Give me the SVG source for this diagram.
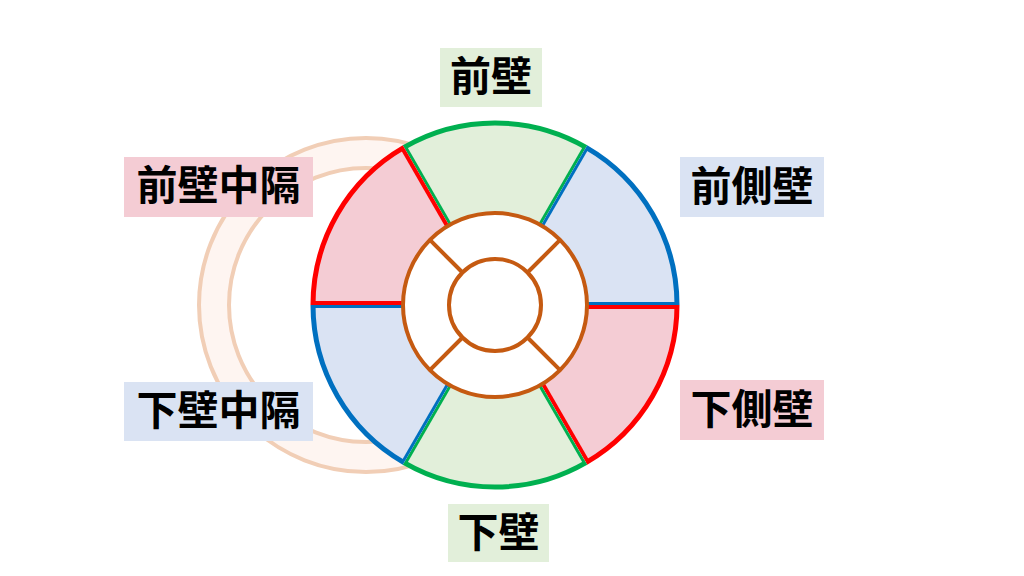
<svg xmlns="http://www.w3.org/2000/svg" width="1024" height="576" viewBox="0 0 1024 576">
  <defs>
    <style>
      .lbl { font-family: "Noto Sans CJK JP", "Noto Sans CJK SC", sans-serif; font-weight: bold; font-size: 41px; fill: #000; text-anchor: middle; }
      .gf { fill: #E2EFDA; } .bf { fill: #DAE3F3; } .rf { fill: #F4CCD4; }
      .arc { fill: none; stroke-width: 5; }
      .edge { stroke-width: 3; stroke-linecap: butt; }
      .edge.rs { stroke-width: 4; }
      .brown { fill: none; stroke: #C55A11; stroke-width: 4; }
      .gs { stroke: #00B050; } .bs { stroke: #0070C0; } .rs { stroke: #FF0000; }
    </style>
  </defs>

  <rect width="1024" height="576" fill="#FFFFFF"/>

  <g id="faded-ring">
    <circle cx="366" cy="305" r="167" fill="#FEF5F1" stroke="#F1CEB6" stroke-width="4"/>
    <circle cx="366" cy="305" r="137" fill="#FFFFFF" stroke="#F1CEB6" stroke-width="4"/>
  </g>

  <g id="seg-anterior">
    <path class="gf" d="M451,228.8 L404,147.4 A182,182 0 0 1 586,147.4 L539,228.8 A88,88 0 0 0 451,228.8 Z"/>
    <path class="arc gs" d="M404,147.4 A182,182 0 0 1 586,147.4"/>
    <line class="edge gs" x1="450.3" y1="224.55" x2="406.3" y2="148.35"/>
    <line class="edge gs" x1="539.7" y1="224.55" x2="583.7" y2="148.35"/>
  </g>
  <g id="seg-anterolateral">
    <path class="bf" d="M539,228.8 L586,147.4 A182,182 0 0 1 677,305 L583,305 A88,88 0 0 0 539,228.8 Z"/>
    <path class="arc bs" d="M586,147.4 A182,182 0 0 1 677,305"/>
    <line class="edge bs" x1="542.3" y1="226.05" x2="586.3" y2="149.85"/>
    <line class="edge bs" x1="587" y1="303.5" x2="675" y2="303.5"/>
  </g>
  <g id="seg-inferolateral">
    <path class="rf" d="M583,305 L677,305 A182,182 0 0 1 586,462.6 L539,381.2 A88,88 0 0 0 583,305 Z"/>
    <path class="arc rs" d="M677,305 A182,182 0 0 1 586,462.6"/>
    <line class="edge rs" x1="587" y1="307" x2="675" y2="307"/>
    <line class="edge rs" x1="542.73" y1="383.7" x2="586.73" y2="459.9"/>
  </g>
  <g id="seg-inferior">
    <path class="gf" d="M539,381.2 L586,462.6 A182,182 0 0 1 404,462.6 L451,381.2 A88,88 0 0 0 539,381.2 Z"/>
    <path class="arc gs" d="M586,462.6 A182,182 0 0 1 404,462.6"/>
    <line class="edge gs" x1="539.7" y1="385.45" x2="583.7" y2="461.65"/>
    <line class="edge gs" x1="450.3" y1="385.45" x2="406.3" y2="461.65"/>
  </g>
  <g id="seg-inferoseptal">
    <path class="bf" d="M451,381.2 L404,462.6 A182,182 0 0 1 313,305 L407,305 A88,88 0 0 0 451,381.2 Z"/>
    <path class="arc bs" d="M404,462.6 A182,182 0 0 1 313,305"/>
    <line class="edge bs" x1="447.7" y1="383.95" x2="403.7" y2="460.15"/>
    <line class="edge bs" x1="403" y1="306.5" x2="315" y2="306.5"/>
  </g>
  <g id="seg-anteroseptal">
    <path class="rf" d="M407,305 L313,305 A182,182 0 0 1 404,147.4 L451,228.8 A88,88 0 0 0 407,305 Z"/>
    <path class="arc rs" d="M313,305 A182,182 0 0 1 404,147.4"/>
    <line class="edge rs" x1="403" y1="303" x2="315" y2="303"/>
    <line class="edge rs" x1="447.27" y1="226.3" x2="403.27" y2="150.1"/>
  </g>

  <g id="inner-ring">
    <circle cx="495" cy="305" r="92" fill="#FFFFFF" stroke="#C55A11" stroke-width="4"/>
    <circle cx="495" cy="305" r="46" class="brown"/>
  </g>
  <g id="connectors">
    <line class="brown" x1="527.5" y1="272.5" x2="560.1" y2="239.9"/>
    <line class="brown" x1="462.5" y1="272.5" x2="429.9" y2="239.9"/>
    <line class="brown" x1="462.5" y1="337.5" x2="429.9" y2="370.1"/>
    <line class="brown" x1="527.5" y1="337.5" x2="560.1" y2="370.1"/>
  </g>

  <g id="label-anterior">
    <rect x="440" y="48" width="102" height="59" fill="#E2EFDA"/>
    <text class="lbl" x="491" y="91">前壁</text>
  </g>
  <g id="label-anteroseptal">
    <rect x="124" y="157" width="189" height="60" fill="#F4CCD4"/>
    <text class="lbl" x="218.5" y="200">前壁中隔</text>
  </g>
  <g id="label-anterolateral">
    <rect x="680" y="157" width="144" height="60" fill="#DAE3F3"/>
    <text class="lbl" x="752" y="201">前側壁</text>
  </g>
  <g id="label-inferoseptal">
    <rect x="124" y="382" width="189" height="59" fill="#DAE3F3"/>
    <text class="lbl" x="218.5" y="425">下壁中隔</text>
  </g>
  <g id="label-inferolateral">
    <rect x="680" y="380" width="144" height="60" fill="#F4CCD4"/>
    <text class="lbl" x="752" y="424">下側壁</text>
  </g>
  <g id="label-inferior">
    <rect x="448" y="504" width="101" height="58" fill="#E2EFDA"/>
    <text class="lbl" x="498.5" y="547">下壁</text>
  </g>
</svg>
